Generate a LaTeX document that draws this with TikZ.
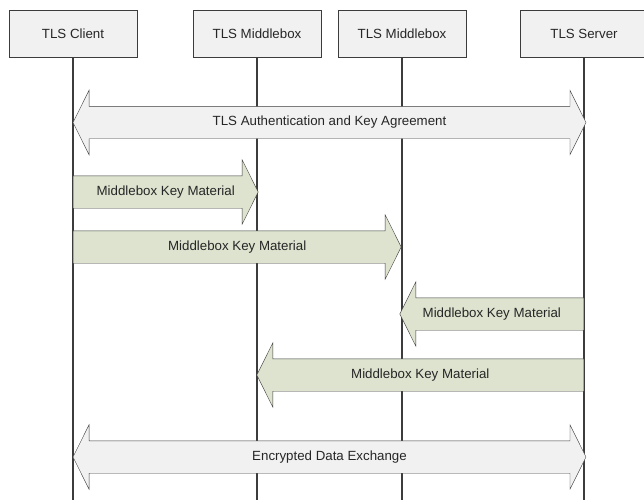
\documentclass[tikz,border=0pt]{standalone}
\usepackage{fontspec}
\setmainfont{Liberation Sans}
\usetikzlibrary{shapes.arrows,calc}
\definecolor{boxgray}{RGB}{241,241,241}
\definecolor{keygreen}{RGB}{221,227,207}
\definecolor{linegray}{RGB}{60,60,60}
\tikzset{
	party/.style={draw=linegray, fill=boxgray, minimum width=128pt, minimum height=47pt, inner sep=0pt},
	lifeline/.style={draw=linegray, line width=1.1pt},
	msgtext/.style={text height=9.5pt, text depth=3pt, inner xsep=0pt, inner ysep=9.75pt},
	keymsg/.style={single arrow, draw=linegray, fill=keygreen, msgtext, single arrow head extend=16pt,
		single arrow tip angle=127, minimum width=64pt, anchor=tail},
	tlsmsg/.style={double arrow, draw=linegray, fill=boxgray, msgtext, double arrow head extend=16pt,
		double arrow tip angle=127, minimum width=64pt}
}

\begin{document}
\begin{tikzpicture}[x=1pt, y=-1pt, font=\fontsize{13.3}{16}\selectfont, text=black!85]
	\useasboundingbox (0,0) rectangle (644,500);
	% parties
	\node[party] (client) at (73,33.5) {TLS Client};
	\node[party] (mbA) at (257,33.5) {TLS Middlebox};
	\node[party] (mbB) at (402,33.5) {TLS Middlebox};
	\node[party] (server) at (584,33.5) {TLS Server};
	% lifelines
	\foreach \p in {client, mbA, mbB, server}
		\draw[lifeline] (\p.south) -- (\p.south |- 0,500);
	% handshake
	\node[tlsmsg, minimum height=513pt] (auth) at (329.5,122.5) {TLS Authentication and Key Agreement};
	% key material
	\node[keymsg, minimum height=185pt] (keyCA) at (client |- 0,192) {};
	\node[keymsg, minimum height=328pt] (keyCB) at (client |- 0,247) {};
	\node[keymsg, shape border rotate=180, minimum height=184pt] (keySB) at (server |- 0,314) {};
	\node[keymsg, shape border rotate=180, minimum height=327pt] (keySA) at (server |- 0,375) {};
	\foreach \k in {keyCA, keyCB, keySB, keySA}
		\node (\k-label) at ($(\k.tail)!.5!(\k.tip)$) {Middlebox Key Material};
	% data
	\node[tlsmsg, minimum height=513pt] (data) at (329.5,457) {Encrypted Data Exchange};
\end{tikzpicture}
\end{document}
